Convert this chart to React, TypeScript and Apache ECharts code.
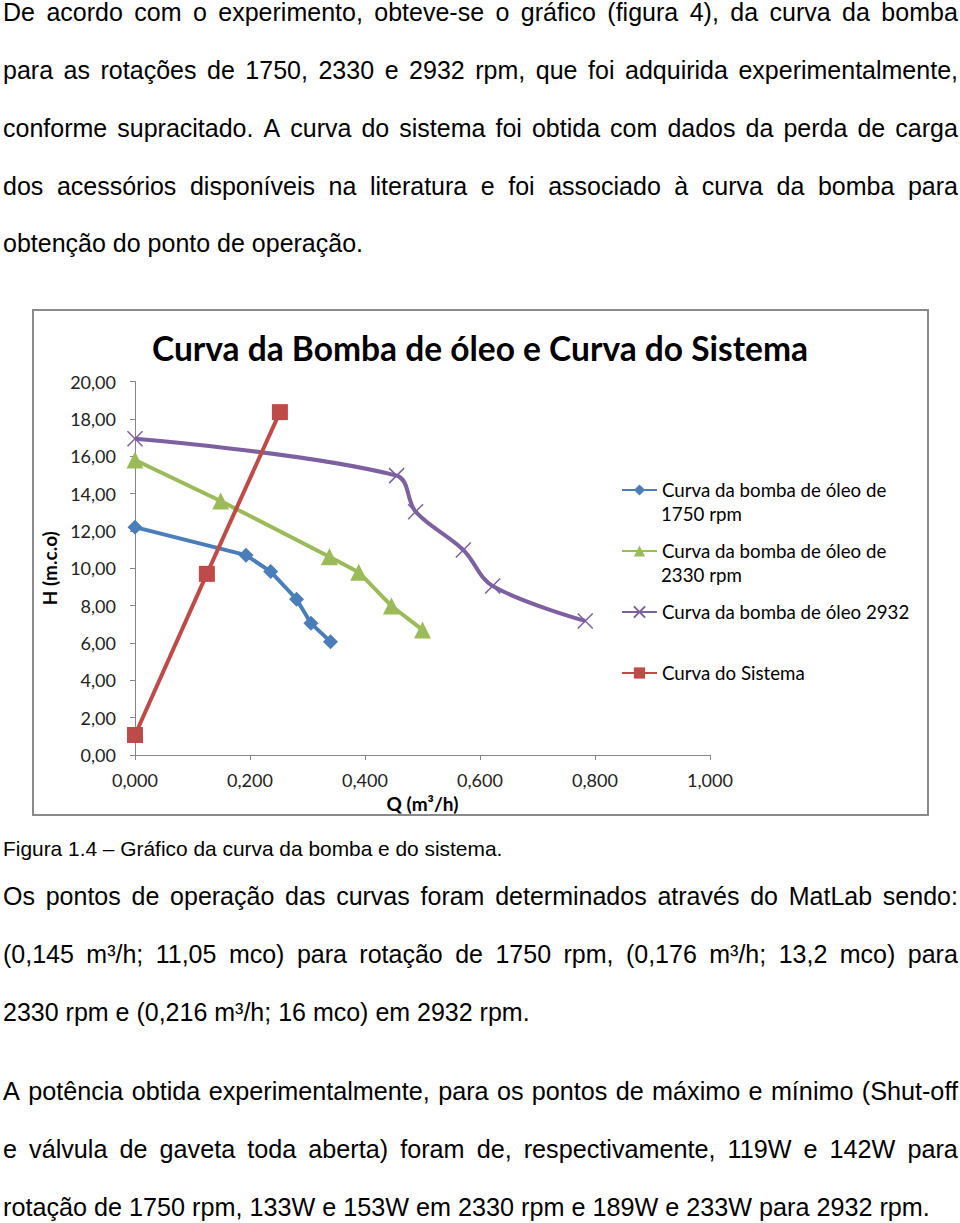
import React, { useEffect, useRef } from "react";
import * as echarts from "echarts";

// ---- data ----
const q1750 = [0, 0.193, 0.236, 0.281, 0.306, 0.34];
const h1750 = [12.2, 10.7, 9.82, 8.34, 7.05, 6.07];
const q2330 = [0, 0.149, 0.338, 0.389, 0.446, 0.5];
const h2330 = [15.8, 13.6, 10.62, 9.79, 7.98, 6.7];
const q2932 = [0, 0.455, 0.488, 0.571, 0.622, 0.783];
const h2932 = [16.93, 14.96, 13.03, 10.98, 9.05, 7.18];
const qSistema = [0, 0.125, 0.252];
const hSistema = [1.07, 9.7, 18.36];

const seriesNames = [
  "Curva da bomba de óleo de 1750 rpm",
  "Curva da bomba de óleo de 2330 rpm",
  "Curva da bomba de óleo 2932",
  "Curva do Sistema",
];
const legendFirstLines = [
  "Curva da bomba de óleo de",
  "Curva da bomba de óleo de",
  "Curva da bomba de óleo 2932",
  "Curva do Sistema",
];
const legendSecondLines = ["1750 rpm", "2330 rpm"];

const chartTitle = "Curva da Bomba de óleo e Curva do Sistema";
const xName = "Q (m³/h)";
const yName = "H (m.c.o)";

const para1 = [
  "De acordo com o experimento, obteve-se o gráfico (figura 4), da curva da bomba",
  "para as rotações de 1750, 2330 e 2932 rpm, que foi adquirida experimentalmente,",
  "conforme supracitado. A curva do sistema foi obtida com dados da perda de carga",
  "dos acessórios disponíveis na literatura e foi associado à curva da bomba para",
  "obtenção do ponto de operação.",
];
const caption = "Figura 1.4 – Gráfico da curva da bomba e do sistema.";
const para2 = [
  "Os pontos de operação das curvas foram determinados através do MatLab sendo:",
  "(0,145 m³/h; 11,05 mco) para rotação de 1750 rpm, (0,176 m³/h; 13,2 mco) para",
  "2330 rpm e (0,216 m³/h; 16 mco) em 2932 rpm.",
];
const para3 = [
  "A potência obtida experimentalmente, para os pontos de máximo e mínimo (Shut-off",
  "e válvula de gaveta toda aberta) foram de, respectivamente, 119W e 142W para",
  "rotação de 1750 rpm, 133W e 153W em 2330 rpm e 189W e 233W para 2932 rpm.",
];

const zip = (a: number[], b: number[]) => a.map((v, i) => [v, b[i]]);

const FONT_TXT = '"Liberation Sans", Arial, sans-serif';
const FONT_CH = 'Lato, "Open Sans", sans-serif';

type LineSpec = { text: string; y: number; justify: boolean; size: number };

const lines: LineSpec[] = [
  ...para1.map((t, i) => ({ text: t, y: [13, 71, 129, 187, 244][i], justify: i < 4, size: 25 })),
  { text: caption, y: 850, justify: false, size: 20.9 },
  ...para2.map((t, i) => ({ text: t, y: [897, 955, 1013][i], justify: i < 2, size: 25 })),
  ...para3.map((t, i) => ({ text: t, y: [1092, 1150, 1208][i], justify: i < 2, size: 25.2 })),
];

function TextLine({ l }: { l: LineSpec }) {
  const lh = 30;
  const base: React.CSSProperties = {
    position: "absolute",
    left: 3,
    top: l.y - lh / 2 - 1,
    height: lh,
    lineHeight: lh + "px",
    fontFamily: FONT_TXT,
    fontSize: l.size,
    color: "#000",
    whiteSpace: "nowrap",
  };
  if (l.justify) {
    return (
      <div style={{ ...base, width: 955, display: "flex", justifyContent: "space-between" }}>
        {l.text.split(" ").map((w, i) => (
          <span key={i}>{w}</span>
        ))}
      </div>
    );
  }
  return <div style={base}>{l.text}</div>;
}

const TOP = 300;

export default function App() {
  const ref = useRef<HTMLDivElement>(null);
  useEffect(() => {
    if (!ref.current) return;
    const chart = echarts.init(ref.current, undefined, { renderer: "svg" });
    const axisColor = "#868686";
    const symbols = ["diamond", "triangle", "path://M0,0L10,10M10,0L0,10", "rect"];
    const sizes = [15, 17, 15, 16];
    const colors = ["#4A7EBB", "#9BBB59", "#7D60A0", "#BE4B48"];
    const datas = [zip(q1750, h1750), zip(q2330, h2330), zip(q2932, h2932), zip(qSistema, hSistema)];
    const legendCenters = [490, 551, 612, 673];
    const option: any = {
      animation: false,
      title: {
        text: chartTitle,
        left: "center",
        top: 349 - TOP - 19,
        padding: 0,
        textStyle: { fontFamily: FONT_CH, fontWeight: "bold", fontSize: 33.5, lineHeight: 36, color: "#000" },
      },
      grid: { left: 135, right: 250, top: 81.5, bottom: 75 },
      legend: legendCenters.map((c, i) => ({
        data: [seriesNames[i]],
        left: 621,
        top: c - TOP - 12,
        padding: 0,
        itemWidth: 35,
        itemHeight: 14,
        formatter: () => legendFirstLines[i],
        textStyle: { fontFamily: FONT_CH, fontSize: 18.7, lineHeight: 24, color: "#000" },
      })),
      xAxis: {
        type: "value",
        min: 0,
        max: 1,
        interval: 0.2,
        name: xName,
        nameLocation: "middle",
        nameGap: 38,
        nameTextStyle: { fontFamily: FONT_CH, fontWeight: "bold", fontSize: 19, color: "#000" },
        axisLine: { show: true, lineStyle: { color: axisColor, width: 1 } },
        axisTick: { show: true, length: 5, lineStyle: { color: axisColor } },
        splitLine: { show: false },
        axisLabel: {
          fontFamily: FONT_CH,
          fontSize: 18,
          color: "#222",
          margin: 16,
          formatter: (v: number) => v.toFixed(3).replace(".", ","),
        },
      },
      yAxis: {
        type: "value",
        min: 0,
        max: 20,
        interval: 2,
        name: yName,
        nameLocation: "middle",
        nameGap: 74,
        nameTextStyle: { fontFamily: FONT_CH, fontWeight: "bold", fontSize: 19, color: "#000" },
        axisLine: { show: true, lineStyle: { color: axisColor, width: 1 } },
        axisTick: { show: true, length: 5, lineStyle: { color: axisColor } },
        splitLine: { show: false },
        axisLabel: {
          fontFamily: FONT_CH,
          fontSize: 18,
          color: "#222",
          margin: 19,
          formatter: (v: number) => v.toFixed(2).replace(".", ","),
        },
      },
      series: seriesNames.map((n, i) => ({
        name: n,
        type: "line",
        data: datas[i],
        smooth: i === 2 ? 0.35 : false,
        symbol: symbols[i],
        symbolSize: sizes[i],
        showAllSymbol: true,
        lineStyle: { color: colors[i], width: 4 },
        itemStyle:
          i === 2
            ? { color: colors[i], borderColor: colors[i], borderWidth: 1.5 }
            : { color: colors[i], borderColor: colors[i], borderWidth: 0 },
        z: 2 + i,
      })),
      graphic: [
        {
          type: "rect",
          shape: { x: 33, y: 310 - TOP, width: 895, height: 505 },
          style: { fill: "none", stroke: "#8a8a8a", lineWidth: 2 },
          silent: true,
        },
        ...legendSecondLines.map((t, i) => ({
          type: "text",
          x: 661,
          y: [514, 575][i] - TOP,
          style: {
            text: t,
            fontFamily: FONT_CH,
            fontSize: 18.7,
            fill: "#000",
            verticalAlign: "middle",
            align: "left",
          },
        })),
      ],
    };
    chart.setOption(option);
    return () => chart.dispose();
  }, []);

  return (
    <div style={{ position: "absolute", left: 0, top: 0, width: 960, height: 1223, background: "#fff" }}>
      {lines.map((l, i) => (
        <TextLine key={i} l={l} />
      ))}
      <div ref={ref} style={{ position: "absolute", left: 0, top: TOP, width: 960, height: 530 }} />
    </div>
  );
}
